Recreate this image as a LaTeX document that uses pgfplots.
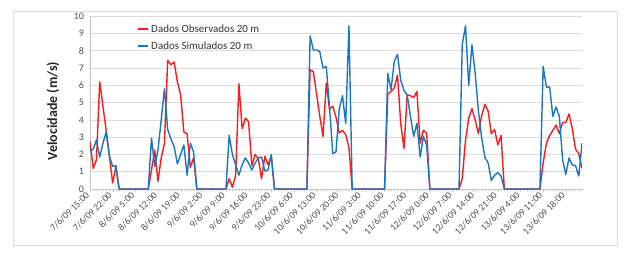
\documentclass[border=0pt]{standalone}
\usepackage{fontspec}
\setmainfont{Carlito}
\usepackage{pgfplots}
\usepackage{pgfplotstable}
\pgfplotsset{compat=1.18}
\definecolor{obsred}{RGB}{255,25,25}
\definecolor{simblue}{RGB}{25,118,198}
\definecolor{gridgray}{RGB}{220,220,220}
\definecolor{axisgray}{RGB}{200,200,200}
\definecolor{tickgray}{RGB}{80,80,80}
\definecolor{framegray}{RGB}{220,220,220}
\pgfplotstableread{
h obs sim
0 2.75 2.2
1 1.2 2.3
2 1.7 2.85
3 6.2 1.85
4 4.8 2.65
5 3.4 3.3
6 1.9 1.9
7 0.35 1.3
8 1.3 1.35
9 0 0
10 0 0
11 0 0
12 0 0
13 0 0
14 0 0
15 0 0
16 0 0
17 0 0
18 0 0
19 1.1 2.95
20 2.25 1.3
21 0.45 2.25
22 1.8 4.0
23 2.65 5.8
24 7.45 3.45
25 7.2 2.9
26 7.35 2.45
27 6.2 1.45
28 5.45 2.0
29 3.3 2.55
30 3.2 0.8
31 1.25 2.65
32 1.8 2.15
33 0 0
34 0 0
35 0 0
36 0 0
37 0 0
38 0 0
39 0 0
40 0 0
41 0 0
42 0 0
43 0.6 3.1
44 0.1 2.0
45 0.8 1.4
46 6.1 0.8
47 3.5 1.4
48 4.1 1.8
49 3.9 1.5
50 1.35 1.1
51 2.0 1.5
52 1.75 1.8
53 0.6 1.85
54 1.9 1.05
55 1.4 1.1
56 1.9 2.0
57 0 0
58 0 0
59 0 0
60 0 0
61 0 0
62 0 0
63 0 0
64 0 0
65 0 0
66 0 0
67 0 0
68 6.9 8.86
69 6.8 8.05
70 5.5 8.05
71 4.2 7.95
72 3.05 7.0
73 6.15 7.1
74 4.6 4.75
75 4.8 2.05
76 4.15 2.15
77 3.25 4.65
78 3.4 5.4
79 3.15 3.8
80 2.4 9.45
81 0 0
82 0 0
83 0 0
84 0 0
85 0 0
86 0 0
87 0 0
88 0 0
89 0 0
90 0 0
91 0 0
92 5.5 6.7
93 5.65 5.75
94 5.85 7.4
95 6.6 7.8
96 3.8 6.3
97 2.35 5.7
98 5.45 5.45
99 5.4 4.2
100 5.3 3.05
101 5.65 3.8
102 2.65 1.85
103 3.4 3.05
104 3.25 2.55
105 0 0
106 0 0
107 0 0
108 0 0
109 0 0
110 0 0
111 0 0
112 0 0
113 0 0
114 0 0
115 0.6 8.35
116 2.8 9.45
117 4.1 6.0
118 4.65 8.35
119 4.0 6.7
120 3.2 4.5
121 4.25 2.95
122 4.9 1.85
123 4.5 1.5
124 3.2 0.5
125 3.45 0.8
126 2.55 0.95
127 3.1 0.75
128 0 0
129 0 0
130 0 0
131 0 0
132 0 0
133 0 0
134 0 0
135 0 0
136 0 0
137 0 0
138 0 0
139 0 0
140 1.5 7.1
141 2.65 5.9
142 3.1 5.9
143 3.4 4.2
144 3.7 4.75
145 3.2 4.2
146 3.85 1.7
147 3.85 0.85
148 4.35 1.8
149 3.5 1.4
150 2.3 1.35
151 2.05 0.75
152 1.2 2.65
}\data
\begin{document}
\begin{tikzpicture}
\begin{axis}[
  scale only axis, width=492pt, height=172.7pt,
  xmin=0, xmax=152, ymin=0, ymax=10,
  ytick={0,1,...,10},
  xtick={0,7,...,147},
  xticklabels={7/6/09 15:00,7/6/09 22:00,8/6/09 5:00,8/6/09 12:00,8/6/09 19:00,9/6/09 2:00,9/6/09 9:00,9/6/09 16:00,9/6/09 23:00,10/6/09 6:00,10/6/09 13:00,10/6/09 20:00,11/6/09 3:00,11/6/09 10:00,11/6/09 17:00,12/6/09 0:00,12/6/09 7:00,12/6/09 14:00,12/6/09 21:00,13/6/09 4:00,13/6/09 11:00,13/6/09 18:00},
  minor xtick={0,1,...,152},
  ymajorgrids, grid style={draw=gridgray, line width=0.7pt},
  axis x line*=bottom, axis y line*=left,
  axis line style={draw=axisgray, -},
  tick align=outside,
  xtick style={draw=axisgray},
  ytick style={draw=none},
  major tick length=2.5pt, minor tick length=2pt,
  /pgf/number format/assume math mode=true,
  tick label style={text=tickgray},
  yticklabel style={font=\fontsize{10}{12}\selectfont},
  xticklabel style={font=\fontsize{9.5}{11}\selectfont, rotate=45, anchor=east},
  ylabel={\bfseries Velocidade (m/s)},
  ylabel style={at={(axis description cs:-0.0752,0.452)}, anchor=center, font=\fontsize{14}{16}\selectfont, text=black!85},
  legend style={at={(axis description cs:0.095,0.965)}, anchor=north west, draw=none, fill=none,
    font=\fontsize{11}{13}\selectfont, row sep=4pt, inner sep=0pt},
  legend cell align=left,
  legend image code/.code={\draw[#1, line width=1.8pt, line cap=butt] (0pt,0pt) -- (10.5pt,0pt);},
]
\addplot[color=obsred, line width=1.4pt, line join=round] table[x=h, y=obs]{\data};
\addlegendentry{\textcolor{black!80}{Dados Observados 20 m}}
\addplot[color=simblue, line width=1.4pt, line join=round] table[x=h, y=sim]{\data};
\addlegendentry{\textcolor{black!80}{Dados Simulados 20 m}}
\end{axis}
\draw[framegray, line width=0.8pt] (-76.5pt,-56pt) rectangle (527.5pt,178pt);
\path[use as bounding box] (-90pt,-68pt) rectangle (544pt,189pt);
\end{tikzpicture}
\end{document}
